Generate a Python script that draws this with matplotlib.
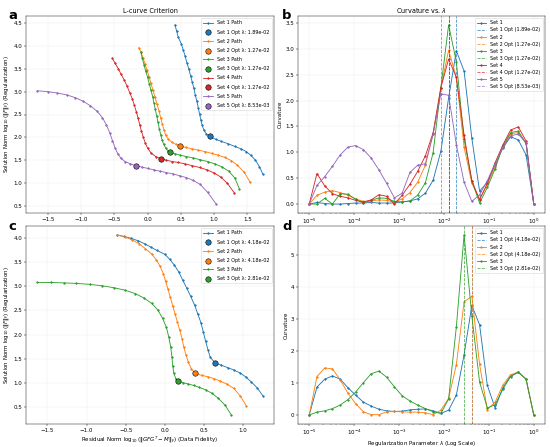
import matplotlib
matplotlib.use("Agg")
import matplotlib.pyplot as plt
import numpy as np

# regularization grid (30 values, 1e-5 .. 1)
lam = [1.000e-5, 1.487e-5, 2.212e-5, 3.290e-5, 4.894e-5, 7.279e-5, 1.083e-4, 1.610e-4,
       2.395e-4, 3.562e-4, 5.298e-4, 7.880e-4, 1.172e-3, 1.743e-3, 2.593e-3, 3.857e-3,
       5.736e-3, 8.532e-3, 1.269e-2, 1.887e-2, 2.807e-2, 4.175e-2, 6.210e-2, 9.237e-2,
       1.374e-1, 2.043e-1, 3.039e-1, 4.520e-1, 6.723e-1, 1.000]

# ---- panel a : L-curves (residual norm, solution norm) ----
a_res1 = [0.41, 0.435, 0.46, 0.505, 0.535, 0.565, 0.59, 0.62, 0.645, 0.67, 0.695, 0.715, 0.74, 0.76, 0.78,
          0.80, 0.82, 0.845, 0.88, 0.93, 1.02, 1.11, 1.21, 1.31, 1.40, 1.48, 1.55, 1.62, 1.68, 1.73]
a_sol1 = [4.46, 4.33, 4.19, 4.05, 3.91, 3.77, 3.63, 3.49, 3.35, 3.21, 3.07, 2.93, 2.79, 2.65, 2.51,
          2.38, 2.26, 2.16, 2.08, 2.02, 1.96, 1.91, 1.86, 1.80, 1.75, 1.69, 1.61, 1.50, 1.36, 1.20]
a_res2 = [-0.135, -0.10, -0.07, -0.04, -0.01, 0.02, 0.05, 0.08, 0.11, 0.14, 0.17, 0.195, 0.22, 0.245, 0.27,
          0.31, 0.36, 0.42, 0.49, 0.57, 0.66, 0.76, 0.86, 0.96, 1.06, 1.16, 1.26, 1.35, 1.45, 1.54]
a_sol2 = [3.96, 3.86, 3.74, 3.61, 3.47, 3.33, 3.18, 3.03, 2.88, 2.73, 2.58, 2.43, 2.29, 2.16, 2.05,
          1.96, 1.90, 1.85, 1.81, 1.78, 1.75, 1.72, 1.69, 1.65, 1.61, 1.56, 1.49, 1.39, 1.24, 1.02]
a_res3 = [-0.10, -0.08, -0.055, -0.03, 0.0, 0.025, 0.05, 0.075, 0.095, 0.115, 0.135, 0.155, 0.175, 0.195, 0.215,
          0.24, 0.27, 0.30, 0.34, 0.41, 0.49, 0.58, 0.68, 0.79, 0.90, 1.01, 1.12, 1.22, 1.31, 1.38]
a_sol3 = [3.86, 3.73, 3.59, 3.45, 3.31, 3.17, 3.03, 2.89, 2.75, 2.61, 2.47, 2.33, 2.19, 2.06, 1.95,
          1.85, 1.77, 1.71, 1.67, 1.64, 1.61, 1.58, 1.55, 1.51, 1.47, 1.42, 1.35, 1.26, 1.11, 0.87]
a_res4 = [-0.53, -0.49, -0.44, -0.40, -0.35, -0.31, -0.27, -0.23, -0.20, -0.17, -0.145, -0.12, -0.095, -0.065, -0.035,
          0.0, 0.05, 0.12, 0.20, 0.28, 0.37, 0.46, 0.56, 0.67, 0.78, 0.89, 1.00, 1.10, 1.20, 1.30]
a_sol4 = [3.73, 3.62, 3.50, 3.38, 3.25, 3.12, 2.98, 2.84, 2.70, 2.56, 2.42, 2.28, 2.14, 2.00, 1.87,
          1.76, 1.66, 1.58, 1.53, 1.50, 1.47, 1.45, 1.42, 1.38, 1.34, 1.29, 1.22, 1.13, 0.99, 0.79]
a_res5 = [-1.66, -1.50, -1.36, -1.22, -1.09, -0.97, -0.86, -0.76, -0.68, -0.62, -0.57, -0.53, -0.49, -0.45, -0.40,
          -0.34, -0.26, -0.18, -0.09, 0.0, 0.09, 0.18, 0.28, 0.38, 0.48, 0.58, 0.68, 0.79, 0.90, 1.03]
a_sol5 = [3.02, 3.00, 2.97, 2.93, 2.87, 2.79, 2.69, 2.57, 2.43, 2.27, 2.10, 1.93, 1.77, 1.64, 1.54,
          1.47, 1.42, 1.38, 1.35, 1.32, 1.29, 1.26, 1.23, 1.20, 1.16, 1.12, 1.06, 0.97, 0.80, 0.54]
a_opt = [19, 18, 18, 18, 17]

# ---- panel b : curvature ----
b_k1 = [0.0, 0.03, 0.01, 0.0, 0.0, 0.01, 0.02, 0.02, 0.03, 0.02, 0.02, 0.02, 0.04, 0.06, 0.10,
        0.21, 0.46, 1.02, 2.05, 2.96, 2.57, 1.27, 0.25, 0.42, 0.75, 1.08, 1.30, 1.24, 0.95, 0.0]
b_k2 = [0.0, 0.17, 0.23, 0.26, 0.22, 0.17, 0.10, 0.05, 0.06, 0.08, 0.07, 0.04, 0.10, 0.22, 0.42,
        0.75, 1.35, 2.25, 2.97, 2.45, 1.10, 0.40, 0.10, 0.38, 0.72, 1.10, 1.36, 1.38, 1.18, 0.0]
b_k3 = [0.0, 0.0, 0.11, 0.0, 0.20, 0.19, 0.09, 0.02, 0.07, 0.12, 0.11, 0.05, 0.04, 0.06, 0.17,
        0.41, 0.99, 2.25, 3.46, 2.75, 1.25, 0.45, 0.02, 0.32, 0.68, 1.12, 1.38, 1.41, 1.17, 0.0]
b_k4 = [0.0, 0.59, 0.35, 0.20, 0.15, 0.12, 0.07, 0.04, 0.08, 0.18, 0.15, 0.0, 0.17, 0.38, 0.63,
        0.93, 1.38, 2.25, 2.80, 2.45, 1.33, 0.45, 0.08, 0.40, 0.80, 1.14, 1.43, 1.49, 1.22, 0.0]
b_k5 = [0.0, 0.36, 0.53, 0.73, 0.95, 1.10, 1.13, 1.05, 0.89, 0.66, 0.40, 0.12, 0.21, 0.61, 0.75,
        0.78, 1.35, 2.13, 2.10, 1.15, 0.42, 0.05, 0.18, 0.45, 0.78, 1.10, 1.32, 1.35, 1.18, 0.0]

# ---- panel c : L-curves, second data ----
c_res1 = [-0.61, -0.52, -0.43, -0.34, -0.26, -0.18, -0.10, 0.0, 0.06, 0.12, 0.18, 0.23, 0.28, 0.33, 0.38,
          0.42, 0.46, 0.49, 0.52, 0.55, 0.58, 0.64, 0.72, 0.80, 0.88, 0.96, 1.03, 1.10, 1.18, 1.25]
c_sol1 = [4.06, 4.03, 3.99, 3.94, 3.88, 3.81, 3.74, 3.66, 3.56, 3.44, 3.29, 3.12, 2.96, 2.79, 2.61,
          2.43, 2.25, 2.06, 1.87, 1.69, 1.53, 1.42, 1.37, 1.32, 1.27, 1.21, 1.13, 1.03, 0.90, 0.74]
c_res2 = [-0.61, -0.51, -0.42, -0.33, -0.25, -0.17, -0.11, -0.06, -0.02, 0.01, 0.04, 0.07, 0.10, 0.13, 0.16,
          0.19, 0.22, 0.24, 0.27, 0.30, 0.34, 0.39, 0.47, 0.55, 0.63, 0.71, 0.79, 0.88, 0.96, 1.04]
c_sol2 = [4.06, 4.02, 3.96, 3.88, 3.78, 3.67, 3.55, 3.41, 3.26, 3.10, 2.94, 2.77, 2.60, 2.43, 2.26,
          2.09, 1.92, 1.75, 1.58, 1.43, 1.29, 1.20, 1.16, 1.13, 1.09, 1.04, 0.98, 0.89, 0.74, 0.53]
c_res3 = [-1.63, -1.46, -1.29, -1.13, -0.96, -0.80, -0.65, -0.51, -0.38, -0.27, -0.17, -0.09, -0.03, 0.02, 0.05,
          0.075, 0.09, 0.10, 0.115, 0.14, 0.17, 0.23, 0.30, 0.37, 0.44, 0.52, 0.60, 0.68, 0.77, 0.85]
c_sol3 = [3.08, 3.08, 3.07, 3.06, 3.04, 3.01, 2.97, 2.92, 2.85, 2.76, 2.65, 2.51, 2.34, 2.15, 1.95,
          1.74, 1.54, 1.36, 1.20, 1.09, 1.04, 1.01, 0.98, 0.95, 0.91, 0.86, 0.79, 0.69, 0.54, 0.34]
c_opt = [21, 21, 20]

# ---- panel d : curvature, second data ----
d_k1 = [0.0, 0.87, 1.12, 1.22, 1.12, 0.85, 0.62, 0.40, 0.28, 0.18, 0.13, 0.11, 0.12, 0.16, 0.18,
        0.19, 0.13, 0.05, 0.15, 0.62, 1.88, 3.42, 2.82, 0.93, 0.22, 0.85, 1.22, 1.35, 1.12, 0.0]
d_k2 = [0.0, 1.20, 1.47, 1.44, 1.10, 0.68, 0.35, 0.10, 0.01, 0.01, 0.10, 0.11, 0.10, 0.09, 0.09,
        0.07, 0.01, 0.15, 0.52, 1.57, 3.53, 3.71, 1.58, 0.17, 0.40, 0.93, 1.26, 1.33, 1.13, 0.0]
d_k3 = [0.0, 0.09, 0.13, 0.20, 0.31, 0.48, 0.72, 1.01, 1.29, 1.37, 1.18, 0.88, 0.60, 0.44, 0.31,
        0.20, 0.10, 0.05, 0.50, 2.75, 5.62, 3.10, 1.03, 0.22, 0.32, 0.80, 1.20, 1.33, 1.12, 0.0]

colors = ["tab:blue", "tab:orange", "tab:green", "tab:red", "tab:purple"]

W, H = 550, 447
dpi = 550 / 14
fig = plt.figure(figsize=(W / dpi, H / dpi), dpi=dpi)

def box(l, r, t, b):
    return [l / W, 1 - b / H, (r - l) / W, (b - t) / H]

ax_a = fig.add_axes(box(26, 274, 16, 213))
ax_b = fig.add_axes(box(298, 545, 16, 213))
ax_c = fig.add_axes(box(26, 274, 226, 424))
ax_d = fig.add_axes(box(298, 545, 226, 424))

ylab = r"Solution Norm $\log_{10}(\|F\|_F)$ (Regularization)"
xlab = r"Residual Norm $\log_{10}(\|GFG^T - M\|_F)$ (Data Fidelity)"


def lcurve(ax, res, sol, opt):
    for i in range(len(res)):
        c = colors[i]
        ax.plot(res[i], sol[i], "-o", color=c, lw=1.6, ms=3, label=f"Set {i+1} Path")
        k = opt[i]
        ax.scatter(res[i][k], sol[i][k], s=100, color=c, edgecolor="black", lw=1, zorder=5,
                   label=f"Set {i+1} Opt λ: {lam[k]:.2e}")
    ax.set_ylabel(ylab)
    ax.grid(True, linestyle=":", alpha=0.6)
    ax.legend(loc="upper right", fontsize=9, labelspacing=0.85)


def curv(ax, ks, opt):
    for i in range(len(ks)):
        c = colors[i]
        ax.semilogx(lam, ks[i], "-o", color=c, lw=1.6, ms=3, label=f"Set {i+1}")
        ax.axvline(lam[opt[i]], color=c, ls="--", lw=1.5, alpha=0.8,
                   label=f"Set {i+1} Opt ({lam[opt[i]]:.2e})")
    ax.set_ylabel("Curvature")
    ax.grid(True, linestyle=":", alpha=0.6)
    ax.legend(loc="upper right", fontsize=9, labelspacing=0.42)


lcurve(ax_a, [a_res1, a_res2, a_res3, a_res4, a_res5], [a_sol1, a_sol2, a_sol3, a_sol4, a_sol5], a_opt)
ax_a.set_title("L-curve Criterion")

curv(ax_b, [b_k1, b_k2, b_k3, b_k4, b_k5], a_opt)
ax_b.set_title(r"Curvature vs. $\lambda$")

lcurve(ax_c, [c_res1, c_res2, c_res3], [c_sol1, c_sol2, c_sol3], c_opt)
ax_c.set_xlabel(xlab)

curv(ax_d, [d_k1, d_k2, d_k3], c_opt)
ax_d.set_xlabel(r"Regularization Parameter $\lambda$ (Log Scale)")

for lab, x, y in [("a", 8, 9), ("b", 282, 9), ("c", 8, 220), ("d", 282, 220)]:
    fig.text(x / W, 1 - y / H, lab, fontsize=24, fontweight="bold", va="top", ha="left")

fig.savefig("out.png", dpi=dpi)
